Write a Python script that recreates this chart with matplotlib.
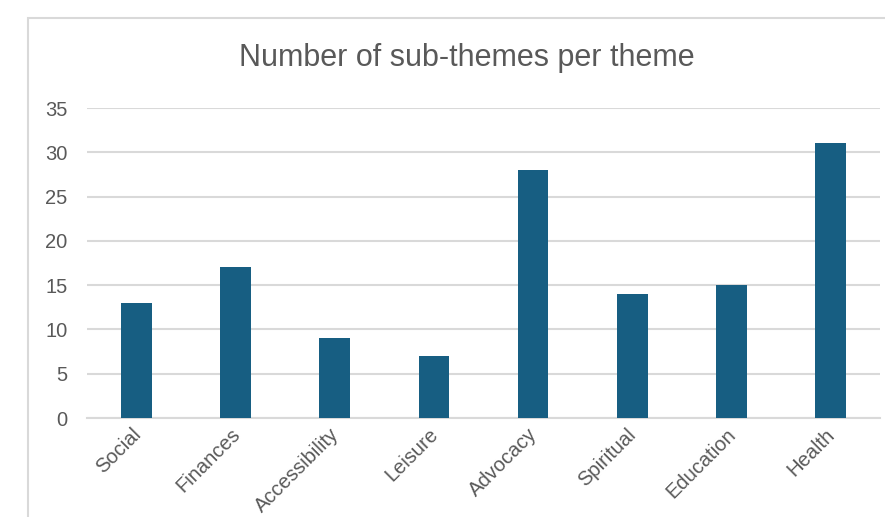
import matplotlib.pyplot as plt
import matplotlib.transforms as mtransforms
from matplotlib.patches import Rectangle

# Chart data
themes = ["Social", "Finances", "Accessibility", "Leisure",
          "Advocacy", "Spiritual", "Education", "Health"]
sub_theme_counts = [13, 17, 9, 7, 28, 14, 15, 31]
y_ticks = [0, 5, 10, 15, 20, 25, 30, 35]

bar_color = "#175E82"
text_color = "#595959"
grid_color = "#D9D9D9"

plt.rcParams["font.family"] = ["Liberation Sans", "DejaVu Sans"]

fig = plt.figure(figsize=(8.85, 5.17), dpi=100)
W, H = 885, 517

# Chart border (Excel-style chart area outline, cut off at right/bottom)
fig.patches.append(Rectangle((28 / W, -0.1), 1.2, 1 - 18 / H + 0.1,
                             transform=fig.transFigure, fill=False,
                             edgecolor=grid_color, linewidth=1.5))

ax = fig.add_axes([87 / W, 1 - 418 / H, (880 - 87) / W, 310 / H])
ax.bar(range(len(themes)), sub_theme_counts, width=0.31, color=bar_color, zorder=3)

ax.set_xlim(-0.5, len(themes) - 0.5)
ax.set_ylim(0, 35)
ax.set_yticks(y_ticks)
ax.yaxis.grid(True, color=grid_color, linewidth=1.5, zorder=0)

for side in ["top", "right", "left"]:
    ax.spines[side].set_visible(False)
ax.spines["bottom"].set_color(grid_color)
ax.spines["bottom"].set_linewidth(1.5)

ax.tick_params(axis="y", length=0, pad=14, labelsize=14.5, labelcolor=text_color)
ax.tick_params(axis="x", length=0, pad=5, labelsize=14.5, labelcolor=text_color)
ax.set_xticks(range(len(themes)))
ax.set_xticklabels(themes, rotation=45, ha="right", va="top", rotation_mode="anchor")

# nudge the rotated labels a little to the left, as in Excel
shift = mtransforms.ScaledTranslation(-4 / 72, 0, fig.dpi_scale_trans)
for label in ax.get_xticklabels():
    label.set_transform(label.get_transform() + shift)

fig.text(467 / W, 1 - 58 / H, "Number of sub-themes per theme",
         ha="center", va="center", fontsize=22, color=text_color)

fig.savefig("out.png", dpi=100)
